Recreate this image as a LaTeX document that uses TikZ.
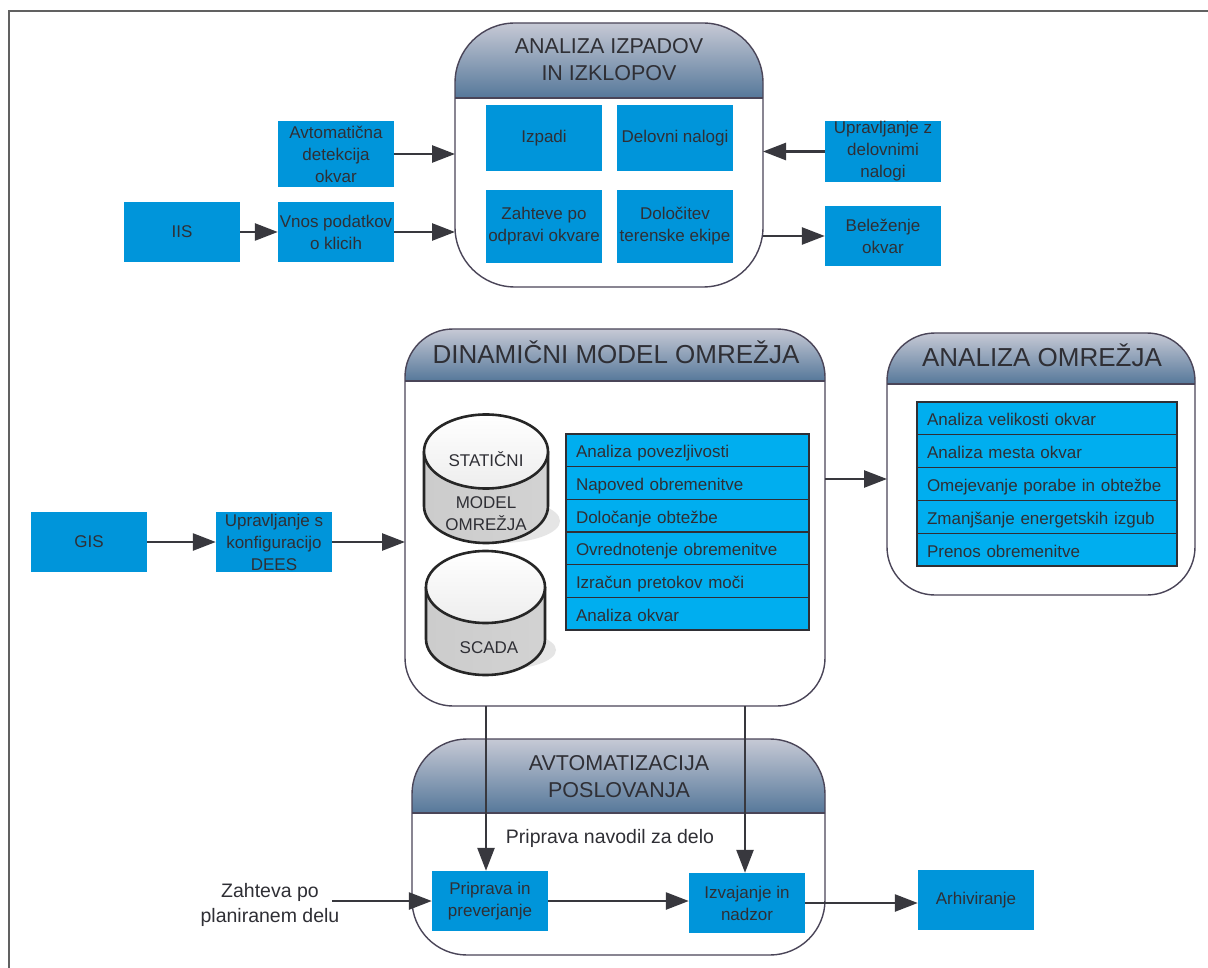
\documentclass[tikz,border=0pt]{standalone}
\usepackage{fontspec}
\setmainfont{Liberation Sans}
\usetikzlibrary{arrows.meta}

\definecolor{boxblue}{HTML}{0095DA}
\definecolor{listblue}{HTML}{00AEEF}
\definecolor{txt}{HTML}{2F2F35}
\definecolor{arrowc}{HTML}{38383E}
\definecolor{grpline}{HTML}{4A4558}
\definecolor{hdtop}{HTML}{C6C9D5}
\definecolor{hdbot}{HTML}{56789A}

\tikzset{
  bluebox/.style={fill=boxblue, text=txt, align=center, inner sep=0pt,
    minimum width=116pt, font=\fontsize{17}{22}\selectfont},
  listrow/.style={fill=listblue, draw=txt, line width=1.2pt, text=txt, align=left,
    inner xsep=10pt, inner ysep=0pt, text height=16pt, text depth=1pt,
    font=\fontsize{17}{22}\selectfont},
  arr/.style={draw=arrowc, line width=2.6pt, -{Triangle[length=23pt,width=17pt]}},
  grpframe/.style={draw=grpline, line width=1.4pt},
  hdtext/.style={text=txt, align=center, inner sep=0pt},
  cyl/.style={draw=black!85, line width=2.6pt},
  cylbody/.style={left color=gray!40, middle color=gray!10, right color=gray!35},
  cyltop/.style={top color=white, bottom color=gray!14},
  cylshadow/.style={fill=gray!20},
  cyltext/.style={text=txt, align=center, inner sep=0pt, font=\fontsize{17}{22}\selectfont},
  plain/.style={text=txt, align=center, inner sep=0pt, font=\fontsize{19.5}{25}\selectfont},
  outerframe/.style={draw=black!62, line width=2pt},
}

% group container: name, x1, y1, x2, y2, header bottom, corner radius
\newcommand{\groupbox}[7]{%
  \begin{scope}
    \clip[rounded corners=#7pt] (#2,#3) rectangle (#4,#5);
    \shade[top color=hdtop, bottom color=hdbot] (#2,#3) rectangle (#4,#6);
  \end{scope}
  \draw[grpframe] (#2,#6) -- (#4,#6);
  \node[grpframe, rounded corners=#7pt, inner sep=0pt, outer sep=0pt,
    minimum width={(#4-#2)*1pt}, minimum height={(#5-#3)*1pt}]
    (#1) at ({(#2+#4)/2},{(#3+#5)/2}) {};
}

\begin{document}
\begin{tikzpicture}[x=1pt,y=-1pt]
\useasboundingbox (0,0) rectangle (1208,968);
\fill[white] (0,0) rectangle (1208,968);
\draw[outerframe] (9,968) -- (9,11) -- (1208,11);

% ---------- outages and switching ----------
\groupbox{g1}{455}{23}{763}{287}{98}{60}
\node[hdtext, font=\fontsize{21.5}{27}\selectfont] (h1) at (609,60) {ANALIZA IZPADOV\\IN IZKLOPOV};
\node[bluebox, minimum height=66pt] (izp) at (544,138) {Izpadi};
\node[bluebox, minimum height=66pt] (del) at (675,138) {Delovni nalogi};
\node[bluebox, minimum height=73pt] (zah) at (544,226.5) {Zahteve po\\odpravi okvare};
\node[bluebox, minimum height=73pt] (dol) at (675,226.5) {Določitev\\terenske ekipe};

\node[bluebox, minimum height=66pt] (avt) at (336,154) {Avtomatična\\detekcija\\okvar};
\node[bluebox, minimum height=60pt] (iis) at (182,232) {IIS};
\node[bluebox, minimum height=60pt] (vnos) at (336,232) {Vnos podatkov\\o klicih};
\node[bluebox, minimum height=61pt] (uprz) at (883,151.5) {Upravljanje z\\delovnimi\\nalogi};
\node[bluebox, minimum height=60pt] (bel) at (883,236) {Beleženje\\okvar};

% ---------- dynamic network model ----------
\groupbox{g2}{405}{329}{825}{706}{381}{48}
\node[hdtext, font=\fontsize{26}{31}\selectfont] (h2) at (616,352.5) {DINAMIČNI MODEL OMREŽJA};

% static model database
\fill[cylshadow] (500,521) ellipse[x radius=60, y radius=22];
\shade[cylbody]
  (424,451.5) -- (424,506) arc[start angle=180, end angle=0, x radius=62, y radius=37] -- (548,451.5) -- cycle;
\draw[cyl] (424,451.5) -- (424,506) arc[start angle=180, end angle=0, x radius=62, y radius=37] -- (548,451.5);
\draw[cyl, cyltop] (486,451.5) ellipse[x radius=62, y radius=37];
\node[cyltext] (stat) at (486,459) {STATIČNI};
\node[cyltext] (model) at (486,514) {MODEL\\OMREŽJA};

% SCADA database
\fill[cylshadow] (497,650) ellipse[x radius=59, y radius=20];
\shade[cylbody]
  (426,587) -- (426,639) arc[start angle=180, end angle=0, x radius=59.5, y radius=36] -- (545,587) -- cycle;
\draw[cyl] (426,587) -- (426,639) arc[start angle=180, end angle=0, x radius=59.5, y radius=36] -- (545,587);
\draw[cyl, cyltop] (485.5,587) ellipse[x radius=59.5, y radius=36];
\node[cyltext] (scada) at (489,648) {SCADA};

% functions of the model
\node[listrow, text width=223pt, minimum height=32.67pt] (la) at (687.5,450.3) {Analiza povezljivosti};
\node[listrow, text width=223pt, minimum height=32.67pt] (lb) at (687.5,483) {Napoved obremenitve};
\node[listrow, text width=223pt, minimum height=32.67pt] (lc) at (687.5,515.7) {Določanje obtežbe};
\node[listrow, text width=223pt, minimum height=32.67pt] (ld) at (687.5,548.3) {Ovrednotenje obremenitve};
\node[listrow, text width=223pt, minimum height=32.67pt] (le) at (687.5,581) {Izračun pretokov moči};
\node[listrow, text width=223pt, minimum height=32.67pt] (lf) at (687.5,613.7) {Analiza okvar};

\node[bluebox, minimum height=60pt] (gis) at (89,542) {GIS};
\node[bluebox, minimum height=60pt] (ups) at (274,542) {Upravljanje s\\konfiguracijo\\DEES};

% ---------- network analysis ----------
\groupbox{g3}{887}{333}{1195}{595}{384}{48}
\node[hdtext, font=\fontsize{26}{31}\selectfont] (h3) at (1042,355) {ANALIZA OMREŽJA};
\node[listrow, text width=240pt, minimum height=32.8pt] (ma) at (1047,418.4) {Analiza velikosti okvar};
\node[listrow, text width=240pt, minimum height=32.8pt] (mb) at (1047,451.2) {Analiza mesta okvar};
\node[listrow, text width=240pt, minimum height=32.8pt] (mc) at (1047,484) {Omejevanje porabe in obtežbe};
\node[listrow, text width=240pt, minimum height=32.8pt] (md) at (1047,516.8) {Zmanjšanje energetskih izgub};
\node[listrow, text width=240pt, minimum height=32.8pt] (me) at (1047,549.6) {Prenos obremenitve};

% ---------- business automation ----------
\groupbox{g4}{412}{739}{825}{955}{813}{55}
\node[hdtext, font=\fontsize{21.5}{27}\selectfont] (h4) at (619,776.5) {AVTOMATIZACIJA\\POSLOVANJA};
\node[plain] (navod) at (610,838) {Priprava navodil za delo};
\node[bluebox, minimum height=60pt] (prip) at (490,901) {Priprava in\\preverjanje};
\node[bluebox, minimum height=60pt] (izv) at (747,903) {Izvajanje in\\nadzor};
\node[bluebox, minimum height=60pt] (arh) at (976,900) {Arhiviranje};
\node[plain] (plan) at (270,905) {Zahteva po\\planiranem delu};

% ---------- connectors ----------
\draw[arr] (avt.east) -- (avt.east -| g1.west);
\draw[arr] (iis.east) -- (vnos.west);
\draw[arr] (vnos.east) -- (vnos.east -| g1.west);
\draw[arr] (uprz.west) -- (uprz.west -| g1.east);
\draw[arr] (bel.west -| g1.east) -- (bel.west);

\draw[arr] (gis.east) -- (ups.west);
\draw[arr] (ups.east) -- (ups.east -| g2.west);
\coordinate (g2out) at ([yshift=38.5pt]g2.east);
\draw[arr] (g2out) -- (g2out -| g3.west);

\coordinate (d1) at ([xshift=-4pt]prip.north);
\draw[arr] (d1 |- g2.south) -- (d1);
\coordinate (d2) at ([xshift=-2pt]izv.north);
\draw[arr] (d2 |- g2.south) -- (d2);

\coordinate (zs) at (332,901);
\draw[arr] (zs) -- (zs -| prip.west);
\draw[arr] (prip.east) -- (prip.east -| izv.west);
\draw[arr] (izv.east) -- (izv.east -| arh.west);
\end{tikzpicture}
\end{document}
